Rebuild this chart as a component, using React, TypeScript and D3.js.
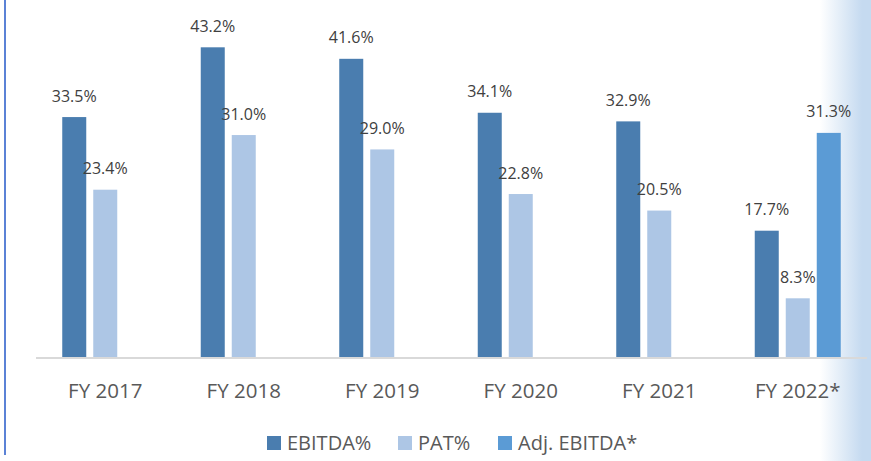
import React from "react";
import * as d3 from "d3";

const categories = ["FY 2017", "FY 2018", "FY 2019", "FY 2020", "FY 2021", "FY 2022*"];
const ebitda = [33.5, 43.2, 41.6, 34.1, 32.9, 17.7];
const pat = [23.4, 31.0, 29.0, 22.8, 20.5, 8.3];
const adjEbitda: (number | null)[] = [null, null, null, null, null, 31.3];
const seriesNames = ["EBITDA%", "PAT%", "Adj. EBITDA*"];
const seriesColors = ["#4A7DAF", "#ADC6E5", "#5B9BD5"];

const W = 871;
const H = 461;
const font = "'Open Sans', 'DejaVu Sans', sans-serif";

export default function App() {
  const x0 = d3.scaleBand<string>().domain(categories).range([36, 867]).paddingInner(0).paddingOuter(0);
  const groupW = 86;
  const x1 = d3.scaleBand<number>().domain([0, 1, 2]).range([0, groupW]).paddingInner(7 / 31).paddingOuter(0);
  const y = d3.scaleLinear().domain([0, 50]).range([358, -1.6]);
  const series = [ebitda, pat, adjEbitda];

  const legendX = [267, 398, 498];

  return (
    <svg width={W} height={H} style={{ position: "absolute", left: 0, top: 0, background: "#fff" }}>
      <defs>
        <linearGradient id="edge" x1="0" x2="1" y1="0" y2="0">
          <stop offset="0" stopColor="#C5DAF0" stopOpacity="0" />
          <stop offset="1" stopColor="#C5DAF0" stopOpacity="1" />
        </linearGradient>
      </defs>
      <rect x={820} y={0} width={42} height={H} fill="url(#edge)" />
      <rect x={862} y={0} width={9} height={H} fill="#C5DAF0" />
      <line x1={5} x2={5} y1={0} y2={455} stroke="#5B82D6" strokeWidth={2} />

      {categories.map((c, i) => {
        const gx = (x0(c) as number) + x0.bandwidth() / 2 - groupW / 2;
        return (
          <g key={c}>
            {series.map((s, k) => {
              const v = s[i];
              if (v == null) return null;
              const bx = gx + (x1(k) as number);
              const bw = x1.bandwidth();
              return (
                <g key={k}>
                  <rect x={bx} y={y(v)} width={bw} height={y(0) - y(v)} fill={seriesColors[k]} />
                  <text
                    x={bx + bw / 2}
                    y={y(v) - 15.5}
                    textAnchor="middle"
                    fontFamily={font}
                    fontSize={16}
                    fill="#404040"
                  >
                    {v.toFixed(1)}%
                  </text>
                </g>
              );
            })}
            <text
              x={(x0(c) as number) + x0.bandwidth() / 2}
              y={397.5}
              textAnchor="middle"
              fontFamily={font}
              fontSize={20.5}
              fill="#595959"
            >
              {c}
            </text>
          </g>
        );
      })}
      <line x1={36} x2={867} y1={358} y2={358} stroke="#D9D9D9" strokeWidth={2} />

      {seriesNames.map((n, k) => (
        <g key={n}>
          <rect x={legendX[k]} y={436} width={14} height={14} fill={seriesColors[k]} />
          <text x={legendX[k] + 20} y={450} fontFamily={font} fontSize={20} fill="#595959">
            {n}
          </text>
        </g>
      ))}
    </svg>
  );
}
